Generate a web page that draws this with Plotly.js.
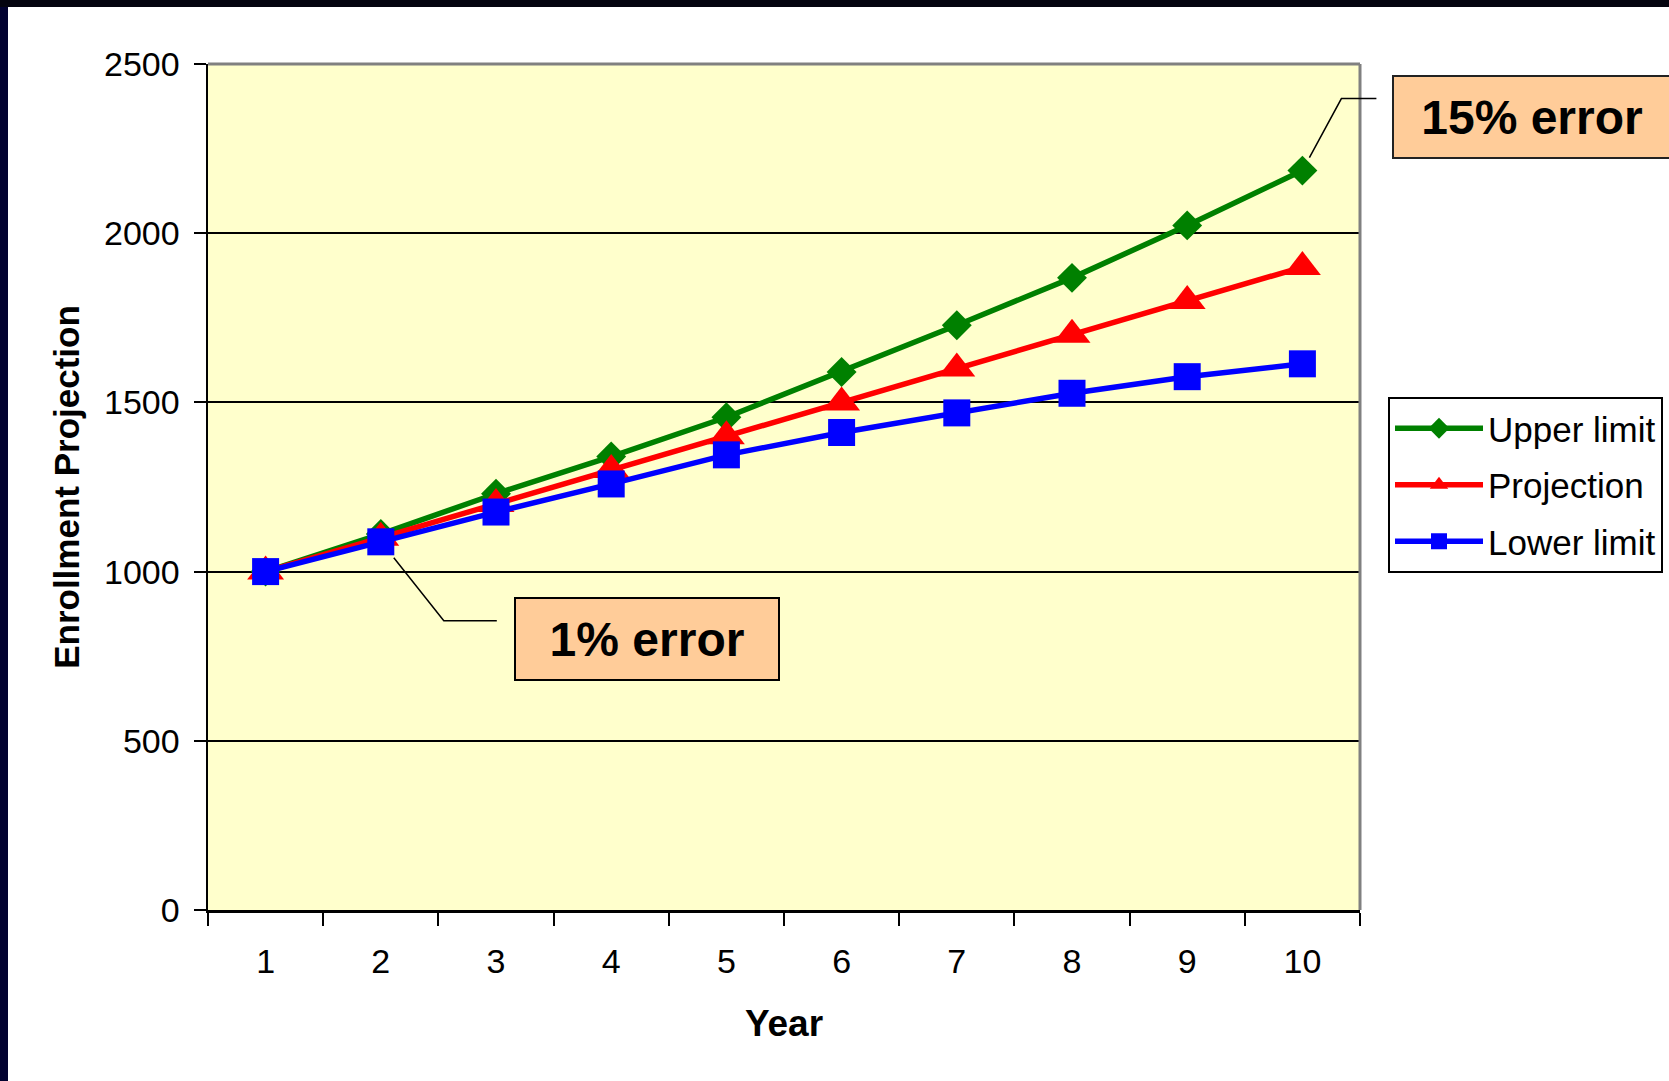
<!DOCTYPE html>
<html>
<head>
<meta charset="utf-8">
<script src="https://cdn.plot.ly/plotly-3.0.1.min.js"></script>
<style>
  html, body { margin: 0; padding: 0; background: #ffffff; }
  #chart { width: 1669px; height: 1081px; }
</style>
</head>
<body>
<div id="chart"></div>
<script>
// ---- data ----
const years = ["1", "2", "3", "4", "5", "6", "7", "8", "9", "10"];
const upperLimit = [1000, 1111, 1230, 1340, 1456, 1590, 1728, 1868, 2023, 2185];
const projection = [1000, 1100, 1200, 1300, 1400, 1500, 1600, 1700, 1800, 1900];
const lowerLimit = [1000, 1088, 1176, 1259, 1345, 1411, 1469, 1527, 1576, 1614];
const seriesNames = ["Upper limit", "Projection", "Lower limit"];
const yTickVals = [0, 500, 1000, 1500, 2000, 2500];
const labelSmall = "1% error";
const labelLarge = "15% error";

const FONT = "Liberation Sans, Arial, sans-serif";

// plot-area geometry in page pixels
const W = 1669, H = 1081;
const L = 208, R = 1360, T = 64, B = 910;
const pw = R - L, ph = B - T;
const px2x = p => (p - L) / pw;
const px2y = p => (B - p) / ph;

const traces = [
  { name: seriesNames[0], x: years, y: upperLimit, mode: "lines+markers", legendgroup: "a",
    line: { color: "#008000", width: 5.5 }, marker: { symbol: "diamond", size: 23, color: "#008000" } },
  { name: seriesNames[1], x: years, y: projection, mode: "lines+markers", legendgroup: "b",
    line: { color: "#ff0000", width: 5.5 }, marker: { symbol: "triangle-up", size: 32, color: "#ff0000" } },
  { name: seriesNames[2], x: years, y: lowerLimit, mode: "lines+markers", legendgroup: "c",
    line: { color: "#0000ff", width: 5.5 }, marker: { symbol: "square", size: 27, color: "#0000ff" } }
];

const idx2 = years.indexOf("2");
const idx10 = years.indexOf("10");
const catPaper = i => (i + 0.5) / years.length;

const layout = {
  width: W, height: H,
  paper_bgcolor: "#ffffff",
  plot_bgcolor: "#ffffcc",
  margin: { l: L, r: W - R, t: T, b: H - B, pad: 0, autoexpand: false },
  font: { family: FONT, color: "#000000", size: 34 },
  showlegend: true,
  legend: {
    x: px2x(1388), xanchor: "left",
    y: px2y(397), yanchor: "top",
    bgcolor: "#ffffff", bordercolor: "#000000", borderwidth: 2,
    font: { family: FONT, size: 35, color: "#000000" },
    tracegroupgap: 8,
    itemwidth: 88,
    itemsizing: "trace"
  },
  xaxis: {
    type: "category",
    range: [-0.5, years.length - 0.5],
    tickson: "boundaries",
    ticks: "outside", ticklen: 13, tickwidth: 2, tickcolor: "#000000",
    showline: true, linecolor: "#000000", linewidth: 2.5,
    showgrid: false, zeroline: false,
    tickfont: { family: FONT, size: 34, color: "#000000" },
    ticklabelstandoff: 20,
    title: { text: "Year", font: { family: FONT, size: 37, weight: "bold", color: "#000000" }, standoff: 31 },
    automargin: false,
    fixedrange: true
  },
  yaxis: {
    range: [0, 2500],
    tickvals: yTickVals,
    ticks: "outside", ticklen: 12, tickwidth: 2, tickcolor: "#000000",
    showline: true, linecolor: "#000000", linewidth: 2.5,
    showgrid: true, gridcolor: "#000000", gridwidth: 2,
    zeroline: false,
    tickfont: { family: FONT, size: 34, color: "#000000" },
    ticklabelstandoff: 7,
    title: { text: "Enrollment Projection", font: { family: FONT, size: 35, weight: "bold", color: "#000000" }, standoff: 14 },
    automargin: false,
    fixedrange: true
  },
  shapes: [
    // dark frame of the slide
    { type: "rect", xref: "paper", yref: "paper", x0: px2x(0), x1: px2x(8), y0: px2y(H), y1: px2y(0),
      fillcolor: "#020230", line: { width: 0 }, layer: "above" },
    { type: "rect", xref: "paper", yref: "paper", x0: px2x(0), x1: px2x(W), y0: px2y(7), y1: px2y(0),
      fillcolor: "#04040f", line: { width: 0 }, layer: "above" },
    // grey top and right borders of the plot area
    { type: "line", xref: "paper", yref: "paper", x0: 0, x1: 1, y0: 1, y1: 1,
      line: { color: "#808080", width: 3 }, layer: "above" },
    { type: "line", xref: "paper", yref: "paper", x0: 1, x1: 1, y0: 0, y1: 1,
      line: { color: "#808080", width: 3 }, layer: "above" },
    // leader line for the 1% label (anchored to year 2, lower limit)
    { type: "path", xref: "paper", yref: "y", xsizemode: "pixel", ysizemode: "pixel",
      xanchor: catPaper(idx2), yanchor: lowerLimit[idx2],
      path: "M13,-16L63,-79L116,-79", line: { color: "#000000", width: 1.5 }, layer: "above" },
    // leader line for the 15% label (anchored to year 10, upper limit)
    { type: "path", xref: "paper", yref: "y", xsizemode: "pixel", ysizemode: "pixel",
      xanchor: catPaper(idx10), yanchor: upperLimit[idx10],
      path: "M7,13L39,72L74,72", line: { color: "#000000", width: 1.5 }, layer: "above" }
  ],
  annotations: [
    { text: labelSmall, xref: "paper", yref: "paper",
      x: px2x(646.5), y: px2y(638.5), xanchor: "center", yanchor: "middle",
      width: 262, height: 80, showarrow: false, align: "center", valign: "middle",
      bgcolor: "#ffcc99", bordercolor: "#000000", borderwidth: 2, borderpad: 0,
      font: { family: FONT, size: 48, weight: "bold", color: "#000000" } },
    { text: labelLarge, xref: "paper", yref: "paper",
      x: px2x(1531.5), y: px2y(116.5), xanchor: "center", yanchor: "middle",
      width: 276, height: 80, showarrow: false, align: "center", valign: "middle",
      bgcolor: "#ffcc99", bordercolor: "#222222", borderwidth: 2, borderpad: 0,
      font: { family: FONT, size: 48, weight: "bold", color: "#000000" } }
  ]
};

Plotly.newPlot("chart", traces, layout, { displayModeBar: false, staticPlot: true });
</script>
</body>
</html>
